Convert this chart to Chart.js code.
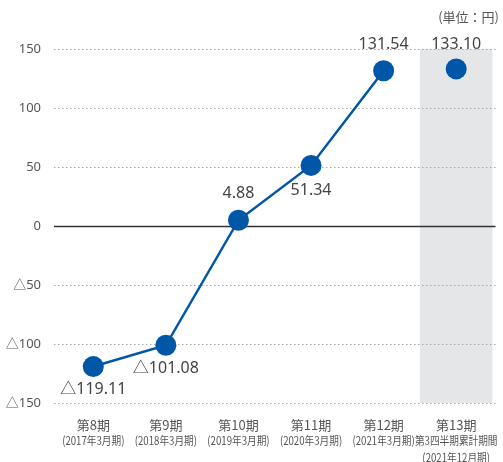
<!DOCTYPE html>
<html><head><meta charset="utf-8">
<script src="https://cdn.jsdelivr.net/npm/chart.js@4.4.0/dist/chart.umd.min.js"></script>
<style>html,body{margin:0;padding:0;background:#fff;overflow:hidden}#wrap{width:503px;height:462px;position:relative}</style>
</head><body><div id="wrap"><canvas id="c"></canvas></div>
<script>
const periods = ["第8期","第9期","第10期","第11期","第12期","第13期"];
const subLabels = [["(2017年3月期)"],["(2018年3月期)"],["(2019年3月期)"],["(2020年3月期)"],["(2021年3月期)"],["第3四半期累計期間","(2021年12月期)"]];
const values = [-119.11,-101.08,4.88,51.34,131.54,133.10];
const valueLabels = ["△119.11","△101.08","4.88","51.34","131.54","133.10"];
const yTicks = [150,100,50,0,-50,-100,-150];
const unitLabel = "(単位：円)";

const CJK = "'Noto Sans CJK JP',sans-serif";
const NUM = "'Noto Sans','Noto Sans CJK JP',sans-serif";
const BLUE = "#0057a8";

const custom = {
  id: 'custom',
  beforeDatasetsDraw(chart){
    const {ctx, chartArea:a, scales:{x,y}} = chart;
    ctx.save();
    const step = x.getPixelForValue(1) - x.getPixelForValue(0);
    const cx = x.getPixelForValue(5);
    ctx.fillStyle = "#e5e6e8";
    ctx.fillRect(cx - step/2, y.getPixelForValue(150), step, y.getPixelForValue(-150) - y.getPixelForValue(150));
    yTicks.forEach(v=>{
      const py = Math.round(y.getPixelForValue(v)) + 0.5;
      ctx.beginPath();
      if (v === 0){ ctx.setLineDash([]); ctx.strokeStyle="#333"; ctx.lineWidth=1.3; }
      else { ctx.setLineDash([1.5,2.5]); ctx.strokeStyle="#a8a8a8"; ctx.lineWidth=1; }
      ctx.moveTo(a.left-3, py); ctx.lineTo(a.right+3, py); ctx.stroke();
    });
    ctx.restore();
  },
  afterDraw(chart){
    const {ctx, chartArea:a, scales:{x,y}} = chart;
    ctx.save();
    ctx.fillStyle = "#444";
    ctx.font = "16px " + NUM;
    ctx.textAlign = "center";
    ctx.textBaseline = "middle";
    const offs = [[0,23],[0,23],[0,-27],[0,25],[0,-26],[0,-25]];
    values.forEach((v,i)=>{
      const px = x.getPixelForValue(i), py = y.getPixelForValue(v);
      ctx.fillText(valueLabels[i], px + offs[i][0], py + offs[i][1]);
    });
    ctx.fillStyle = "#555";
    periods.forEach((p,i)=>{
      const px = x.getPixelForValue(i);
      ctx.font = "13px " + CJK;
      ctx.textAlign = "center";
      ctx.textBaseline = "middle";
      ctx.fillText(p, px, a.bottom + 22);
      subLabels[i].forEach((s,j)=>{
        ctx.save();
        ctx.translate(px, a.bottom + 38 + j*17);
        ctx.scale(0.84, 1);
        ctx.font = "11.5px " + CJK;
        ctx.fillText(s, 0, 0);
        ctx.restore();
      });
    });
    ctx.font = "13px " + CJK;
    ctx.textAlign = "right";
    ctx.fillText(unitLabel, 499, 17);
    ctx.restore();
  }
};

new Chart(document.getElementById('c'), {
  type: 'line',
  data: {
    labels: periods,
    datasets: [{
      data: values,
      borderColor: BLUE,
      backgroundColor: BLUE,
      borderWidth: 2.5,
      pointRadius: 10.5,
      pointHoverRadius: 10.5,
      pointBackgroundColor: BLUE,
      pointBorderWidth: 0,
      clip: false,
      segment: { borderColor: c => c.p1DataIndex === 5 ? 'rgba(0,0,0,0)' : BLUE }
    }]
  },
  options: {
    responsive: true,
    maintainAspectRatio: false,
    animation: false,
    layout: { padding: { top: 49, right: 6, bottom: 51, left: 0 } },
    plugins: { legend: {display:false}, tooltip: {enabled:false} },
    scales: {
      x: { offset: true, grid: {display:false}, border:{display:false}, ticks: {display:false} },
      y: {
        min: -150, max: 150,
        afterFit(s){ s.width = 57; },
        afterBuildTicks(s){ s.ticks = yTicks.map(v=>({value:v})); },
        grid: {display:false}, border:{display:false},
        ticks: {
          color: "#555", padding: 8,
          font: { size: 13, family: NUM },
          callback: v => v < 0 ? "△" + Math.abs(v) : String(v)
        }
      }
    }
  },
  plugins: [custom]
});
</script></body></html>
